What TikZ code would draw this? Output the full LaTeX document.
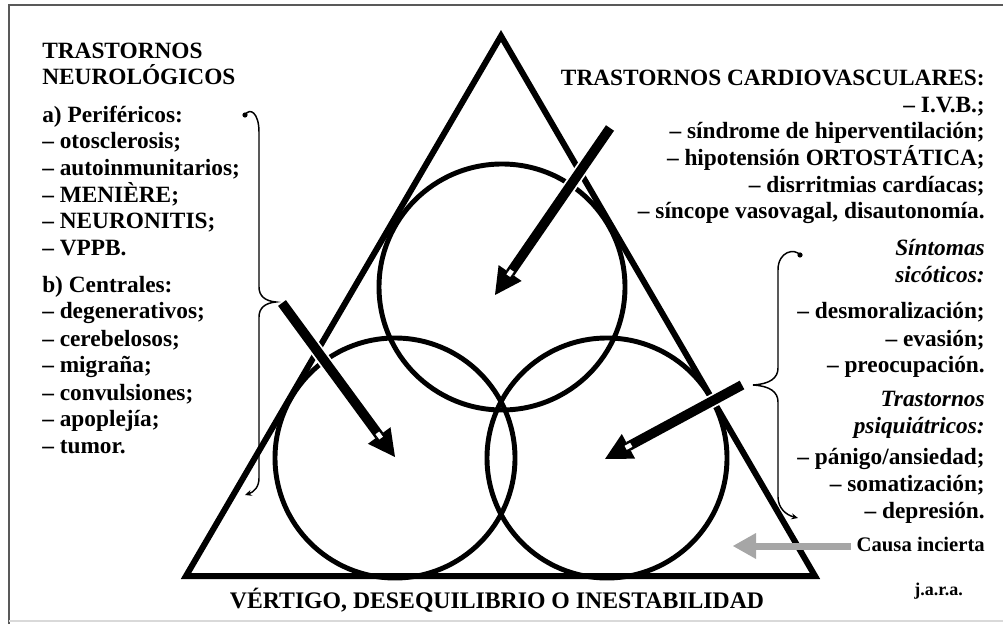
\documentclass[tikz,border=0pt]{standalone}
\usepackage{fontspec}
\setmainfont{Liberation Serif}
\usetikzlibrary{calc,arrows.meta}
\newcommand\bigarr[3]{%
  \coordinate (#1t) at #2;
  \coordinate (#1p) at #3;
  \coordinate (#1b) at ($(#1p)!20pt!(#1t)$);
  \draw[halo] (#1t) -- (#1b);
  \draw[shaft] (#1t) -- (#1b);
  \fill (#1p) -- ($(#1b)!10.5pt!90:(#1p)$) -- ($(#1b)!10.5pt!-90:(#1p)$) -- cycle;
  \draw[white,line width=3.4pt] ($(#1b)!-2.4pt!(#1p)$) -- ($(#1b)!2.4pt!(#1p)$);
}
\begin{document}
\begin{tikzpicture}[x=0.75pt,y=-0.75pt,
  txt/.style={font=\fontsize{17.5}{20}\selectfont\bfseries, inner sep=0pt},
  itx/.style={font=\fontsize{17.5}{20}\selectfont\bfseries\itshape, inner sep=0pt},
  L/.style={txt, anchor=base west},
  R/.style={txt, anchor=base east},
  RI/.style={itx, anchor=base east},
  tri/.style={line width=4.5pt, line join=miter},
  circ/.style={line width=3.7pt},
  shaft/.style={line width=7.3pt},
  halo/.style={line width=10pt, white},
  brace/.style={line width=1.1pt},
  frameline/.style={line width=1.3pt, black!65},
  gcol/.style={black!35}]
\useasboundingbox (0,0) rectangle (1003,627);
% frame
\draw[frameline] (1003,5) -- (9,5) -- (9,624);
\draw[line width=0.8pt, black!15] (9,621) -- (1003,621);
% triangle
\coordinate (apex) at (501,36);
\coordinate (bl) at (186,576);
\coordinate (br) at (815,576);
\draw[tri] (apex) -- (bl) -- (br) -- cycle;
% circles
\coordinate (ct) at (502,287);
\coordinate (cl) at (395,458);
\coordinate (cr) at (607,458);
\draw[circ] (ct) circle[radius=123];
\draw[circ] (cl) circle[radius=120];
\draw[circ] (cr) circle[radius=120];
% left brace
\fill (245,115) circle[radius=2.6];
\draw[brace, -{Stealth[length=5pt,width=4.5pt]}] (245,115) .. controls (250,107) and (259,113) .. (259,132) -- (259,287)
  .. controls (259,296) and (265,301) .. (276,302) .. controls (265,303) and (259,308) .. (259,317)
  -- (259,478) .. controls (259,487) and (254,492) .. (245,495);
% right brace
\fill (800,255) circle[radius=2.6];
\draw[brace, -{Stealth[length=5pt,width=4.5pt]}] (800,255) .. controls (795,248) and (778,251) .. (778,270) -- (778,368)
  .. controls (778,378) and (770,384) .. (753,385) .. controls (770,386) and (778,392) .. (778,402)
  -- (778,497) .. controls (778,508) and (786,515) .. (798,518);
% big arrows
\bigarr{a1}{(610,128)}{(495,295)}
\bigarr{a2}{(282,303)}{(395,457)}
\bigarr{a3}{(742,385)}{(605,459)}
% left text
\node[L] (n1) at (42,59) {TRASTORNOS};
\node[L] (n2) at (42,85) {NEUROLÓGICOS};
\node[L] (n3) at (42,123) {a) Periféricos:};
\node[L] (n4) at (42,149) {-- otosclerosis;};
\node[L] (n5) at (42,176) {-- autoinmunitarios;};
\node[L] (n6) at (42,203) {-- MENIÈRE;};
\node[L] (n7) at (42,229) {-- NEURONITIS;};
\node[L] (n8) at (42,256) {-- VPPB.};
\node[L] (n9) at (42,293) {b) Centrales:};
\node[L] (n10) at (42,319) {-- degenerativos;};
\node[L] (n11) at (42,346) {-- cerebelosos;};
\node[L] (n12) at (42,373) {-- migraña;};
\node[L] (n13) at (42,400) {-- convulsiones;};
\node[L] (n14) at (42,426) {-- apoplejía;};
\node[L] (n15) at (42,453) {-- tumor.};
% right text
\node[R] (c1) at (985,86) {TRASTORNOS CARDIOVASCULARES:};
\node[R] (c2) at (985,113) {-- I.V.B.;};
\node[R] (c3) at (985,139) {-- síndrome de hiperventilación;};
\node[R] (c4) at (985,166) {-- hipotensión ORTOSTÁTICA;};
\node[R] (c5) at (985,193) {-- disrritmias cardíacas;};
\node[R] (c6) at (985,219) {-- síncope vasovagal, disautonomía.};
\node[RI] (s1) at (985,256) {Síntomas};
\node[RI] (s2) at (985,283) {sicóticos:};
\node[R] (s3) at (985,319) {-- desmoralización;};
\node[R] (s4) at (985,346) {-- evasión;};
\node[R] (s5) at (985,373) {-- preocupación.};
\node[RI] (p1) at (985,406) {Trastornos};
\node[RI] (p2) at (985,433) {psiquiátricos:};
\node[R] (p3) at (985,464) {-- pánigo/ansiedad;};
\node[R] (p4) at (985,491) {-- somatización;};
\node[R] (p5) at (985,518) {-- depresión.};
\node[R, font=\fontsize{15.5}{18}\selectfont\bfseries] (causa) at (985,551) {Causa incierta};
\node[txt, anchor=base east, font=\fontsize{13.5}{16}\selectfont\bfseries] (jara) at (963,595) {j.a.r.a.};
\node[txt, anchor=base, font=\fontsize{17.8}{20}\selectfont\bfseries] (vert) at (497,608) {VÉRTIGO, DESEQUILIBRIO O INESTABILIDAD};
% gray arrow
\coordinate (gtip) at (733,546);
\coordinate (gbase) at (756,546);
\coordinate (gtail) at ([xshift=-4pt]causa.west |- gtip);
\draw[gcol, line width=5.25pt] (gtail) -- (gbase);
\fill[gcol] (gtip) -- ($(gbase)+(0,-13)$) -- ($(gbase)+(0,13)$) -- cycle;
\end{tikzpicture}
\end{document}
